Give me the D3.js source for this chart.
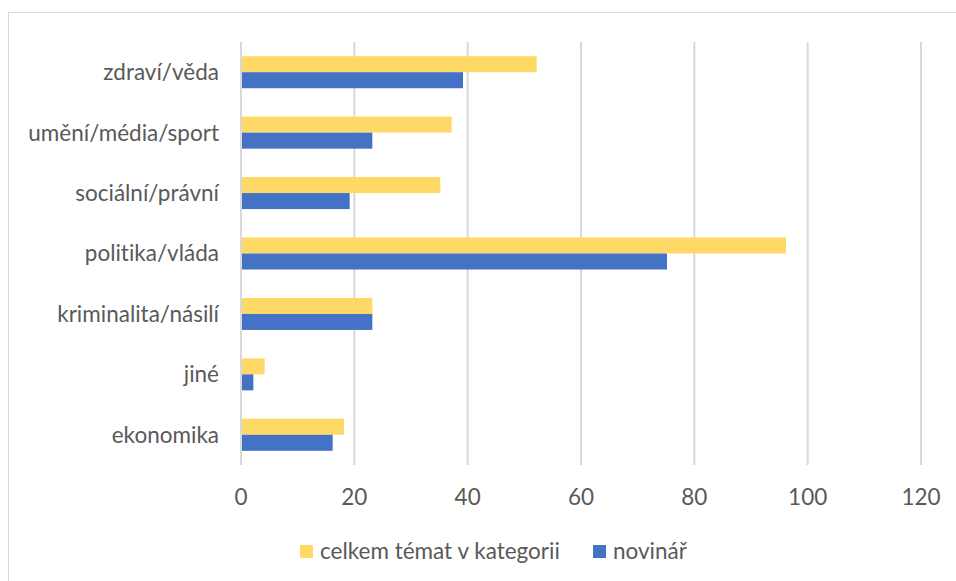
<!DOCTYPE html>
<html>
<head>
<meta charset="utf-8">
<script src="https://cdn.jsdelivr.net/npm/d3@7"></script>
<style>
  body { margin: 0; background: #fff; }
  text { font-family: Lato, "Open Sans", sans-serif; fill: #595959; font-variant-ligatures: none; }
</style>
</head>
<body>
<svg width="956" height="581"></svg>
<script>
var categories = ["zdraví/věda", "umění/média/sport", "sociální/právní", "politika/vláda", "kriminalita/násilí", "jiné", "ekonomika"];
var seriesNames = ["celkem témat v kategorii", "novinář"];
var celkem = [52, 37, 35, 96, 23, 4, 18];
var novinar = [39, 23, 19, 75, 23, 2, 16];
var xTicks = [0, 20, 40, 60, 80, 100, 120];
var colors = ["#FFD966", "#4472C4"];

var svg = d3.select("svg"),
    margin = {top: 42, left: 241, right: 35, bottom: 116},
    width = 921 - margin.left,
    height = 465 - margin.top;

// outer chart border
svg.append("rect")
  .attr("x", 8.5).attr("y", 12.5)
  .attr("width", 960).attr("height", 600)
  .attr("fill", "none").attr("stroke", "#d9d9d9");

var g = svg.append("g").attr("transform", "translate(" + margin.left + "," + margin.top + ")");

var x = d3.scaleLinear().domain([0, 120]).range([0, width]);

var y = d3.scaleBand().domain(categories).range([0, height]).paddingInner(0.47).paddingOuter(0.235);

var y1 = d3.scaleBand().domain([0, 1]).range([0, y.bandwidth()]);

// gridlines
g.selectAll(".grid")
  .data(xTicks)
  .enter().append("line")
    .attr("x1", function(d) { return x(d); })
    .attr("x2", function(d) { return x(d); })
    .attr("y1", 0).attr("y2", height)
    .attr("stroke", "#d9d9d9")
    .attr("stroke-width", 2);

var data = categories.map(function(c, i) { return {cat: c, vals: [celkem[i], novinar[i]]}; });

var groups = g.selectAll(".grp")
  .data(data)
  .enter().append("g")
    .attr("transform", function(d) { return "translate(0," + y(d.cat) + ")"; });

groups.selectAll("rect")
  .data(function(d) { return d.vals; })
  .enter().append("rect")
    .attr("x", x(0) + 1)
    .attr("y", function(d, i) { return y1(i); })
    .attr("width", function(d) { return x(d) - x(0); })
    .attr("height", y1.bandwidth())
    .attr("fill", function(d, i) { return colors[i]; });

// category labels
g.selectAll(".cat")
  .data(categories)
  .enter().append("text")
    .attr("x", -22)
    .attr("y", function(d) { return y(d) + y.bandwidth() / 2; })
    .attr("dy", "0.35em")
    .attr("text-anchor", "end")
    .attr("font-size", 22.5)
    .text(function(d) { return d; });

// x tick labels
g.selectAll(".tick")
  .data(xTicks)
  .enter().append("text")
    .attr("x", function(d) { return x(d); })
    .attr("y", 505 - margin.top)
    .attr("text-anchor", "middle")
    .attr("font-size", 22.5)
    .text(function(d) { return d; });

// legend
var legX = [300, 593];
var leg = svg.selectAll(".leg")
  .data(seriesNames)
  .enter().append("g")
    .attr("transform", function(d, i) { return "translate(" + legX[i] + ",545)"; });

leg.append("rect")
  .attr("width", 13).attr("height", 13)
  .attr("fill", function(d, i) { return colors[i]; });

leg.append("text")
  .attr("x", 20).attr("y", 6.5)
  .attr("dy", "0.35em")
  .attr("font-size", 22.5)
  .text(function(d) { return d; });
</script>
</body>
</html>
